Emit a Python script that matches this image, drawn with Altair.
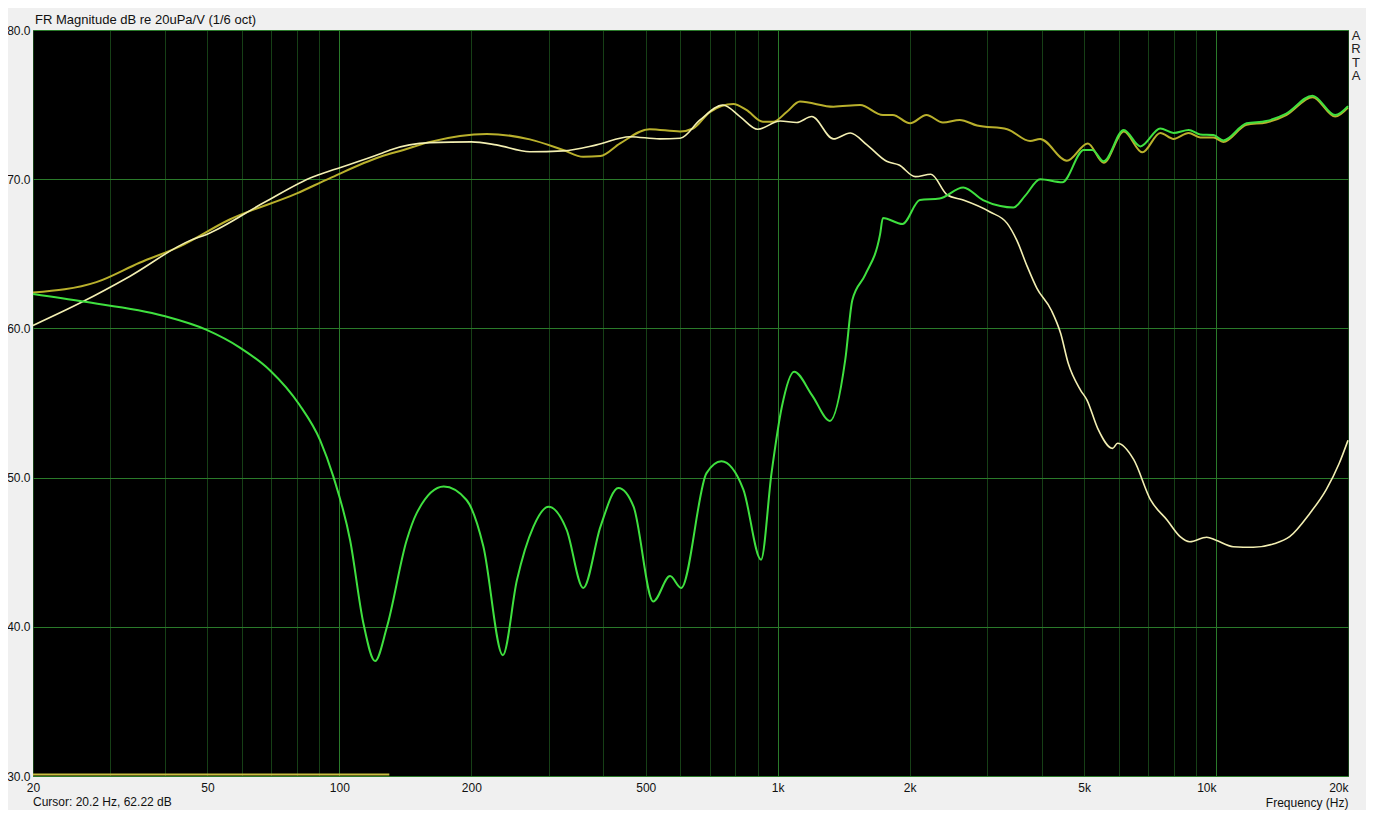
import altair as alt
import pandas as pd

# ---- data ----
green_f = [20, 26, 39.6, 49.8, 59.4, 69.4, 81, 90.4, 96.8, 105.8, 113.5, 120.6, 128.4, 142.4, 150, 173, 195,
           213, 236, 254, 277, 300, 330, 360, 394, 433, 469, 520, 568, 602, 688, 744, 835, 916, 968, 1022, 1090,
           1199, 1316, 1426, 1480, 1584, 1712, 1738, 1926, 2110, 2340, 2650, 2940, 3220, 3450, 3670, 3970, 4460,
           4990, 5220, 5540, 6160, 6720, 7460, 8000, 8660, 9200, 9860, 10390, 11740, 13020, 14460, 16600, 18700, 20000]
green_db = [62.3, 61.8, 60.85, 59.9, 58.7, 57.2, 54.9, 52.5, 50.1, 45.8, 40.2, 37.7, 40.0, 45.8, 47.6, 49.4, 48.5,
            45.4, 38.1, 43.1, 46.7, 48.05, 46.5, 42.6, 46.7, 49.3, 48.05, 41.7, 43.4, 42.6, 50.3, 51.1, 49.2, 44.5, 50.3, 54.75, 57.1,
            55.5, 53.8, 57.9, 61.9, 63.6, 66.3, 67.4, 67.0, 68.6, 68.7, 69.45, 68.6, 68.2, 68.1, 68.9, 70.0, 69.8,
            71.96, 71.96, 71.2, 73.3, 72.2, 73.4, 73.1, 73.3, 73.0, 72.96, 72.6, 73.75, 73.9, 74.4, 75.6, 74.3, 74.9]

olive_f = [20, 27.9, 35, 43.3, 56.2, 80, 95, 124, 140, 161, 217, 272, 324, 360, 394, 437, 510, 599, 641, 700, 792,
           848, 925, 976, 1048, 1124, 1340, 1542, 1738, 1830, 2004, 2184, 2382, 2602, 2850, 3338, 3766, 3970, 4568,
           5100, 5540, 6160, 6790, 7460, 8000, 8660, 9200, 9860, 10390, 11740, 13020, 14460, 16600, 18700, 20000]
olive_db = [62.4, 63.1, 64.4, 65.5, 67.3, 69.05, 70.06, 71.5, 71.96, 72.5, 73.03, 72.67, 71.96, 71.5, 71.55, 72.4, 73.35,
            73.2, 73.4, 74.5, 75.04, 74.64, 73.85, 73.85, 74.5, 75.2, 74.86, 74.97, 74.3, 74.3, 73.75, 74.3, 73.8, 73.97,
            73.6, 73.35, 72.56, 72.7, 71.24, 72.4, 71.1, 73.2, 71.8, 73.1, 72.7, 73.1, 72.8, 72.8, 72.5, 73.65, 73.8,
            74.3, 75.5, 74.2, 74.8]

pale_f = [20, 26, 33.3, 45.7, 49.8, 67, 87.2, 95, 124, 130.6, 161, 200, 228, 272, 324, 386, 460, 538, 599, 665, 750,
          820, 900, 1013, 1105, 1196, 1340, 1464, 1598, 1772, 1892, 2060, 2236, 2436, 2650, 3052, 3338, 3512, 3710,
          3900, 4212, 4420, 4600, 4906, 5076, 5370, 5806, 5960, 6490, 7090, 7730, 8280, 8710, 9520, 10000, 10940,
          12160, 13500, 14720, 16360, 17840, 19100, 20000]
pale_db = [60.2, 61.8, 63.5, 65.9, 66.3, 68.4, 70.17, 70.55, 71.7, 71.96, 72.45, 72.5, 72.3, 71.84, 71.9, 72.3, 72.85,
           72.7, 72.74, 73.97, 74.97, 74.2, 73.35, 73.9, 73.8, 74.2, 72.7, 73.1, 72.3, 71.2, 70.95, 70.17, 70.33, 68.94,
           68.6, 67.8, 67.04, 65.9, 64.14, 62.7, 61.2, 59.67, 57.66, 55.87, 55.2, 53.3, 51.96, 52.3, 51.2, 48.5, 47.16,
           46.04, 45.7, 46.0, 45.8, 45.37, 45.33, 45.55, 46.04, 47.6, 49.2, 50.96, 52.5]

range_f = [20, 130]
range_db = [30.1]

x_grid = [20, 30, 40, 50, 60, 70, 80, 90, 100, 200, 300, 400, 500, 600, 700, 800, 900,
          1000, 2000, 3000, 4000, 5000, 6000, 7000, 8000, 9000, 10000, 20000]
x_labels = [20, 50, 100, 200, 500, 1000, 2000, 5000, 10000, 20000]
y_ticks = [30, 40, 50, 60, 70, 80]

title_text = "FR Magnitude dB re 20uPa/V (1/6 oct)"
cursor_text = "Cursor: 20.2 Hz, 62.22 dB"
x_title = "Frequency (Hz)"
brand = "A\nR\nT\nA"

# ---- tables ----
rows = []
for name, fs, ds in [("olive", olive_f, olive_db), ("pale", pale_f, pale_db), ("green", green_f, green_db)]:
    for f, d in zip(fs, ds):
        rows.append({"series": name, "freq": f, "db": d})
df = pd.DataFrame(rows)
rng = pd.DataFrame({"freq": [range_f[0]], "freq2": [range_f[1]], "db": [range_db[0]]})

FONT = "Liberation Sans"
lab_list = "[" + ",".join(str(v) for v in x_labels) + "]"

x_axis = alt.Axis(
    values=x_grid,
    labelExpr=f"indexof({lab_list}, datum.value) >= 0 ? (datum.value >= 1000 ? (datum.value/1000) + 'k' : datum.value + '') : ''",
    labelOverlap=False,
    labelBound=False,
    labelAlign={"condition": {"test": "datum.value >= 10000", "value": "right"}, "value": "center"},
    labelPadding=6,
    labelFontSize=12,
    labelFont=FONT,
    labelColor="#111",
    grid=True,
    gridColor={"condition": {"test": "datum.value == 100 || datum.value == 1000 || datum.value == 10000",
                             "value": "#2a7a2a"}, "value": "#163f16"},
    gridWidth=1,
    ticks=False,
    domain=False,
    title=x_title,
    titleAnchor="end",
    titleFont=FONT,
    titleFontSize=12,
    titleFontWeight="normal",
    titleColor="#111",
    titlePadding=4,
)
y_axis = alt.Axis(
    values=y_ticks,
    format=".1f",
    labelFontSize=12,
    labelFont=FONT,
    labelColor="#111",
    labelPadding=3,
    grid=True,
    gridColor="#2a7a2a",
    ticks=False,
    domain=False,
    title=None,
)

X = alt.X("freq:Q", scale=alt.Scale(type="log", domain=[20, 20000], nice=False), axis=x_axis)
Y = alt.Y("db:Q", scale=alt.Scale(domain=[30, 80], nice=False), axis=y_axis)

base = alt.Chart(df).encode(x=X, y=Y)

olive = base.transform_filter("datum.series == 'olive'").mark_line(
    color="#b9b02c", strokeWidth=2, interpolate="monotone")
pale = base.transform_filter("datum.series == 'pale'").mark_line(
    color="#f3efb2", strokeWidth=1.6, interpolate="monotone")
green = base.transform_filter("datum.series == 'green'").mark_line(
    color="#3fe03f", strokeWidth=2, interpolate="monotone")

rule = alt.Chart(rng).mark_rule(color="#c9c040", strokeWidth=2).encode(
    x=X, x2="freq2:Q", y=Y)

title = alt.Chart(pd.DataFrame({"t": [title_text]})).mark_text(
    align="left", baseline="middle", font=FONT, fontSize=13, color="#111"
).encode(x=alt.value(2), y=alt.value(-10), text="t:N")

cursor = alt.Chart(pd.DataFrame({"t": [cursor_text]})).mark_text(
    align="left", baseline="middle", font=FONT, fontSize=12, color="#111"
).encode(x=alt.value(0), y=alt.value(772), text="t:N")

arta = alt.Chart(pd.DataFrame({"t": [brand]})).mark_text(
    align="center", baseline="top", font=FONT, fontSize=13, color="#222",
    lineBreak="\n", lineHeight=13.3
).encode(x=alt.value(1323), y=alt.value(0), text="t:N")

chart = alt.layer(olive, pale, green, rule, title, cursor, arta).properties(
    width=1315,
    height=746,
    autosize=alt.AutoSizeParams(type="none"),
    padding={"left": 25, "top": 22, "right": 18, "bottom": 34},
).configure(
    background="#f0f0f0",
).configure_view(
    fill="black", stroke="#5aa05a", strokeWidth=1,
)

chart.save("out.html", embed_options={"renderer": "svg", "actions": False})
